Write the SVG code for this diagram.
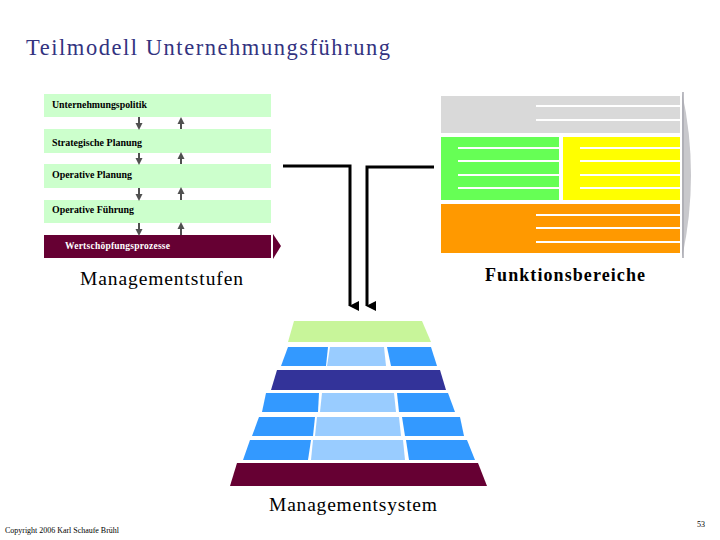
<svg xmlns="http://www.w3.org/2000/svg" width="720" height="540" viewBox="0 0 720 540">
<style>
.t{font-family:"Liberation Serif","DejaVu Serif",serif;}
.box{fill:#ccffcc;}
.st{font-size:9.5px;font-weight:bold;fill:#000;}
.sa{stroke:#505050;stroke-width:2;}
.ha{fill:#505050;}
.wl{fill:#ffffff;}
.con{fill:none;stroke:#000;stroke-width:3;}
.b1{fill:#3399ff;}
.b2{fill:#99ccff;}
</style>
<defs>
<marker id="ah" markerWidth="10" markerHeight="10" refX="5" refY="9" orient="auto" markerUnits="userSpaceOnUse" viewBox="0 0 10 10">
<path d="M0,0 L10,0 L5,10 Z" fill="#000"/>
</marker>
</defs>
<rect width="720" height="540" fill="#ffffff"/>
<text class="t" font-family="Liberation Serif, serif" x="26" y="55" font-size="22.5" fill="#333380" textLength="364" lengthAdjust="spacing">Teilmodell Unternehmungsführung</text>

<g id="stufen">
<g id="n-politik"><rect class="box" x="44" y="94" width="227" height="23"/><text class="t st" font-family="Liberation Serif, serif" x="52" y="108" textLength="95" lengthAdjust="spacingAndGlyphs">Unternehmungspolitik</text></g>
<g id="n-strategisch"><rect class="box" x="44" y="129" width="227" height="24"/><text class="t st" font-family="Liberation Serif, serif" x="52" y="146" textLength="90" lengthAdjust="spacingAndGlyphs">Strategische Planung</text></g>
<g id="n-opplanung"><rect class="box" x="44" y="164" width="227" height="24"/><text class="t st" font-family="Liberation Serif, serif" x="52" y="178" textLength="80" lengthAdjust="spacingAndGlyphs">Operative Planung</text></g>
<g id="n-opfuehrung"><rect class="box" x="44" y="200" width="227" height="23"/><text class="t st" font-family="Liberation Serif, serif" x="52" y="213" textLength="82" lengthAdjust="spacingAndGlyphs">Operative Führung</text></g>
<g id="n-wertschoepfung"><rect x="44" y="235" width="227" height="23" fill="#660033"/><polygon points="273,234 281,246 273,259" fill="#660033"/><text class="t st" font-family="Liberation Serif, serif" x="65" y="249" style="fill:#fff" textLength="105" lengthAdjust="spacing">Wertschöpfungsprozesse</text></g>
<g id="small-arrows">
<line class="sa" x1="139" y1="117" x2="139" y2="124"/><polygon class="ha" points="135.5,123 142.5,123 139,130"/>
<polygon class="ha" points="181,117 177.5,124 184.5,124"/><line class="sa" x1="181" y1="123" x2="181" y2="129"/>
<line class="sa" x1="139" y1="153" x2="139" y2="159"/><polygon class="ha" points="135.5,158 142.5,158 139,165"/>
<polygon class="ha" points="181,152 177.5,159 184.5,159"/><line class="sa" x1="181" y1="158" x2="181" y2="164"/>
<line class="sa" x1="139" y1="188" x2="139" y2="195"/><polygon class="ha" points="135.5,194 142.5,194 139,201"/>
<polygon class="ha" points="181,187 177.5,194 184.5,194"/><line class="sa" x1="181" y1="193" x2="181" y2="200"/>
<line class="sa" x1="139" y1="223" x2="139" y2="230"/><polygon class="ha" points="135.5,229 142.5,229 139,236"/>
<polygon class="ha" points="181,222 177.5,229 184.5,229"/><line class="sa" x1="181" y1="228" x2="181" y2="235"/>
</g>
</g>
<text class="t" font-family="Liberation Serif, serif" x="80" y="285" font-size="19.5" textLength="163" lengthAdjust="spacing">Managementstufen</text>

<g id="funktionen">
<g id="n-grau"><rect x="441" y="96" width="239" height="37" fill="#d9d9d9"/><rect class="wl" x="536" y="105" width="144" height="2"/><rect class="wl" x="536" y="119" width="144" height="2"/></g>
<g id="n-gruen"><rect x="441" y="137" width="118" height="63" fill="#66ff55"/><rect class="wl" x="458" y="147" width="101" height="2"/><rect class="wl" x="458" y="160" width="101" height="2"/><rect class="wl" x="458" y="174" width="101" height="2"/><rect class="wl" x="458" y="187" width="101" height="2"/></g>
<g id="n-gelb"><rect x="563" y="137" width="117" height="63" fill="#ffff00"/><rect class="wl" x="580" y="147" width="100" height="2"/><rect class="wl" x="580" y="160" width="100" height="2"/><rect class="wl" x="580" y="174" width="100" height="2"/><rect class="wl" x="580" y="187" width="100" height="2"/></g>
<g id="n-orange"><rect x="441" y="204" width="239" height="49" fill="#ff9900"/><rect class="wl" x="536" y="214" width="144" height="2"/><rect class="wl" x="536" y="227" width="144" height="2"/><rect class="wl" x="536" y="241" width="144" height="2"/></g>
<path d="M682,92 Q700,175 682,258 Z" fill="#c8c8cc"/>
<line x1="683" y1="92" x2="683" y2="258" stroke="#a8a8b0" stroke-width="1.5"/>
</g>
<text class="t" font-family="Liberation Serif, serif" x="485" y="281" font-size="18" font-weight="bold" textLength="160" lengthAdjust="spacing">Funktionsbereiche</text>

<g id="connectors">
<polyline class="con" points="283,166 350,166 350,306" marker-end="url(#ah)"/>
<polyline class="con" points="434,167 367,167 367,306" marker-end="url(#ah)"/>
</g>

<g id="system">
<polygon points="294,321 422,321 431,342 288,342" fill="#c8f59a"/>
<polygon class="b1" points="288,347 328,347 326,366 281,366"/>
<polygon class="b2" points="330,347 384,347 386,366 327,366"/>
<polygon class="b1" points="387,347 431,347 437,366 391,366"/>
<polygon points="277,370 440,370 446,390 271,390" fill="#333399"/>
<polygon class="b1" points="266,393 319,393 318,412 262,412"/>
<polygon class="b2" points="322,393 394,393 396,412 320,412"/>
<polygon class="b1" points="397,393 448,393 455,412 399,412"/>
<polygon class="b1" points="259,417 315,417 313,436 252,436"/>
<polygon class="b2" points="317,417 399,417 401,436 315,436"/>
<polygon class="b1" points="402,417 460,417 464,436 405,436"/>
<polygon class="b1" points="250,440 311,440 308,460 243,460"/>
<polygon class="b2" points="313,440 403,440 405,460 311,460"/>
<polygon class="b1" points="406,440 467,440 475,460 409,460"/>
<polygon points="237,463 478,463 487,486 230,486" fill="#660033"/>
</g>
<text class="t" font-family="Liberation Serif, serif" x="269" y="511" font-size="19.5" textLength="168" lengthAdjust="spacing">Managementsystem</text>

<text class="t" font-family="Liberation Serif, serif" x="5" y="533" font-size="8" textLength="114" lengthAdjust="spacingAndGlyphs">Copyright 2006 Karl Schaufe Brühl</text>
<text class="t" font-family="Liberation Serif, serif" x="697" y="527" font-size="8">53</text>
</svg>
